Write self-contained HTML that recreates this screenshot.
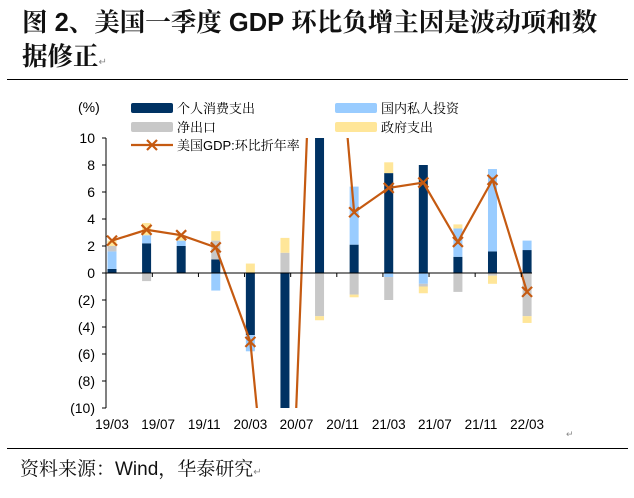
<!DOCTYPE html>
<html style="overflow:hidden"><head><meta charset="utf-8">
<style>
html,body{margin:0;width:634px;height:498px;background:#fff;overflow:hidden;font-family:"Liberation Sans","Noto Sans CJK SC",sans-serif;}
.t{position:absolute;left:22px;font-size:25.5px;font-weight:bold;color:#111;white-space:nowrap;font-family:"Liberation Sans","Noto Serif CJK SC",serif;line-height:30px;}
</style></head><body>
<div class="t" style="top:8px;">图 <span style="font-family:'Liberation Sans',sans-serif">2</span>、美国一季度 <span style="font-family:'Liberation Sans',sans-serif">GDP</span> 环比负增主因是波动项和数</div>
<div class="t" style="top:42px;">据修正<span style="font-size:10px;color:#888;font-weight:normal">↵</span></div>
<div style="position:absolute;left:7px;top:79px;width:621px;height:1px;background:#000"></div>
<div style="position:absolute;left:7px;top:448px;width:621px;height:1px;background:#000"></div>
<div style="position:absolute;left:20px;top:458px;font-size:19px;line-height:24px;color:#111;white-space:nowrap;font-family:'Liberation Sans','Noto Serif CJK SC',serif;">资料来源：Wind，华泰研究<span style="font-size:10px;color:#888">↵</span></div>
<svg id="c" width="634" height="498" style="position:absolute;left:0;top:0"></svg>
<script>
const quarterMonths=[0,3,6,9,12,15,18,21,24,27,30,33,36];
const pce=[0.3,2.2,2.0,1.0,-4.6,-24.0,25.0,2.1,7.4,8.0,1.2,1.6,1.7];
const inv=[1.3,0.6,0.4,-1.3,-1.2,-9.0,12.0,4.3,-0.3,-0.8,2.1,6.1,0.7];
const nx=[0.4,-0.6,0.0,1.4,0.0,1.5,-3.2,-1.6,-1.7,-0.2,-1.4,-0.2,-3.2];
const gov=[0.4,0.9,0.4,0.7,0.7,1.1,-0.3,-0.2,0.8,-0.5,0.3,-0.6,-0.5];
const gdp=[2.4,3.2,2.8,1.9,-5.1,-31.2,33.8,4.5,6.3,6.7,2.3,6.9,-1.4];
const yTicks=[10,8,6,4,2,0,-2,-4,-6,-8,-10];
const yTickLabels=["10","8","6","4","2","0","(2)","(4)","(6)","(8)","(10)"];
const xLabelMonths=[0,4,8,12,16,20,24,28,32,36];
const xLabels=["19/03","19/07","19/11","20/03","20/07","20/11","21/03","21/07","21/11","22/03"];
const NS="http://www.w3.org/2000/svg";
const svg=document.getElementById('c');
const X0=112,MPX=11.53,Y0=273,UPX=13.5,YT=138,YB=408,XL=106,XR=532;
const xs=m=>X0+m*MPX, ys=v=>Y0-v*UPX;
function el(t,a,p){const e=document.createElementNS(NS,t);for(const k in a)e.setAttribute(k,a[k]);(p||svg).appendChild(e);return e;}
const defs=el('defs',{});const cp=el('clipPath',{id:'pc'},defs);el('rect',{x:XL,y:YT,width:XR-XL+10,height:YB-YT},cp);
const g=el('g',{'clip-path':'url(#pc)'});
const cols=['#003263','#99ccff','#c8c8c8','#ffe699'];
const series=[pce,inv,nx,gov];const sNames=['pce','investment','net-exports','government'];
quarterMonths.forEach((m,i)=>{let pos=0,neg=0;const x=xs(m)-4.5;
 series.forEach((s,k)=>{const v=s[i];if(!v)return;let y1,y2;
  if(v>0){y1=pos;pos+=v;y2=pos;}else{y1=neg;neg+=v;y2=neg;}
  const r=el('rect',{x:x,y:ys(Math.max(y1,y2)),width:9,height:Math.abs(y2-y1)*UPX,fill:cols[k]},g);
  
  });});
el('line',{x1:XL,y1:YT,x2:XL,y2:YB,stroke:'#000','stroke-width':1});
el('line',{x1:XL,y1:Y0,x2:XR,y2:Y0,stroke:'#000','stroke-width':1});
yTicks.forEach((v,i)=>{el('line',{x1:XL-4,y1:ys(v),x2:XL,y2:ys(v),stroke:'#000'});
 const t=el('text',{x:XL-11,y:ys(v)+5,'text-anchor':'end','font-size':14,fill:'#000'});t.textContent=yTickLabels[i];
 });
for(let m=4;m<=36;m+=4){el('line',{x1:xs(m)-5.8,y1:Y0,x2:xs(m)-5.8,y2:Y0+4,stroke:'#000'});}
xLabelMonths.forEach((m,i)=>{const t=el('text',{x:xs(m),y:429,'text-anchor':'middle','font-size':13.5,fill:'#000'});t.textContent=xLabels[i];
 });
const u=el('text',{x:78,y:112,'font-size':14});u.textContent='(%)';
const lc='#c55a11';
const pts=quarterMonths.map((m,i)=>xs(m)+','+ys(gdp[i])).join(' ');
const pl=el('polyline',{points:pts,fill:'none',stroke:lc,'stroke-width':2.2},g);

function mark(x,y,p){el('path',{d:`M${x-5},${y-5}L${x+5},${y+5}M${x-5},${y+5}L${x+5},${y-5}`,stroke:lc,'stroke-width':2.2},p);}
quarterMonths.forEach((m,i)=>{const y=ys(gdp[i]);if(y<YT||y>YB)return;mark(xs(m),y,g);});
function leg(x,y,c,txt,name){const r=el('rect',{x:x,y:y-5,width:42,height:10,fill:c,rx:2});
 const t=el('text',{x:x+46,y:y+5,'font-size':13,'font-family':'"Liberation Serif","Noto Serif CJK SC",serif'});t.textContent=txt;}
leg(131,108,cols[0],'个人消费支出','pce');leg(335,108,cols[1],'国内私人投资','investment');
leg(131,127,cols[2],'净出口','net-exports');leg(335,127,cols[3],'政府支出','government');
el('line',{x1:131,y1:145,x2:173,y2:145,stroke:lc,'stroke-width':2.2});mark(152,145,svg);
const lt=el('text',{x:177,y:150,'font-size':13,'font-family':'"Liberation Sans","Noto Serif CJK SC",serif'});lt.textContent='美国GDP:环比折年率';
const rm=el('text',{x:566,y:437,'font-size':9,fill:'#888'});rm.textContent='↵';
</script>
</body></html>
